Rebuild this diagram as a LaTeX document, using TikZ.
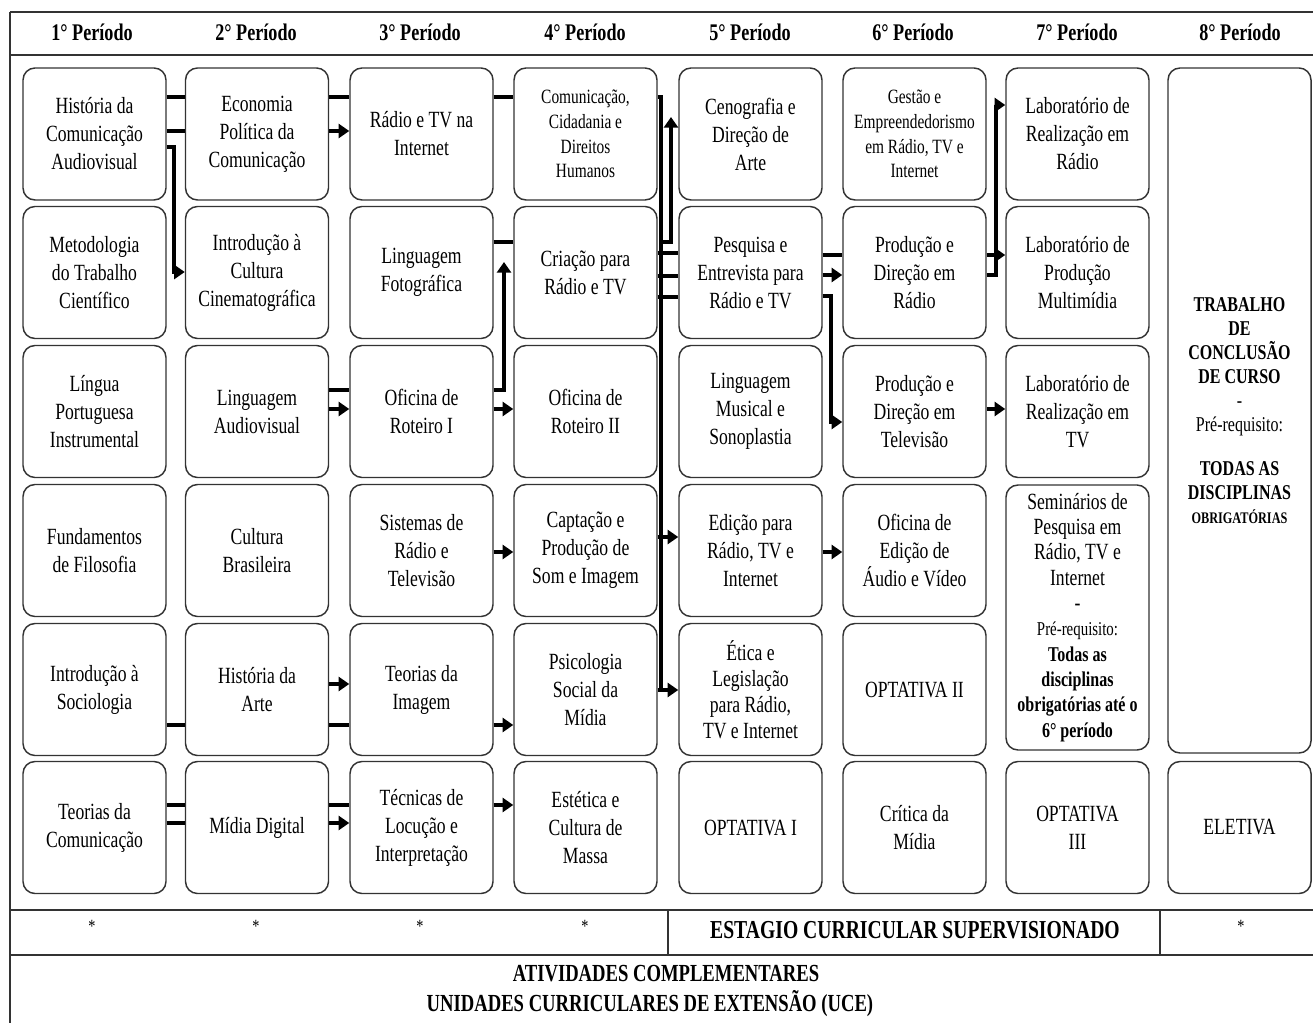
\documentclass[tikz,border=0pt]{standalone}
\usepackage{fontspec}
\setmainfont{Liberation Serif}[FakeStretch=0.76]
\usetikzlibrary{arrows.meta}
\newcommand\cvMain{\fontsize{17.4}{21}\selectfont}
\newcommand\cvSmall{\fontsize{15.2}{18.5}\selectfont}
\newcommand\cvHead{\fontsize{17.9}{20}\selectfont\bfseries}
\begin{document}
\begin{tikzpicture}[x=0.75pt,y=-0.75pt,
 course/.style={draw=black!80, line width=1.1pt, rounded corners=9pt, minimum width=107.25pt, minimum height=99pt, align=center, inner sep=1pt, font=\cvMain},
 link/.style={line width=3pt, line join=miter},
 arr/.style={link, -{Triangle[length=8pt,width=10.5pt]}},
 frame/.style={line width=1.5pt, black!80},
 hd/.style={font=\cvHead}]
\useasboundingbox[fill=white] (0,0) rectangle (1313,1023);
% frame
\draw[frame] (10,12) -- (1313,12);
\draw[frame] (10,55) -- (1313,55);
\draw[frame] (10,12) -- (10,1023);
\draw[frame] (10,910) -- (1313,910);
\draw[frame] (10,955) -- (1313,955);
\draw[frame] (668,910) -- (668,955);
\draw[frame] (1160,910) -- (1160,955);
% headers
\node[hd] (p1) at (92,32) {1° Período};
\node[hd] (p2) at (256,32) {2° Período};
\node[hd] (p3) at (420,32) {3° Período};
\node[hd] (p4) at (585,32) {4° Período};
\node[hd] (p5) at (750,32) {5° Período};
\node[hd] (p6) at (913,32) {6° Período};
\node[hd] (p7) at (1077,32) {7° Período};
\node[hd] (p8) at (1240,32) {8° Período};
% column 1
\node[course] (n11) at (94.5,134) {História da\\Comunicação\\Audiovisual};
\node[course] (n12) at (94.5,272.5) {Metodologia\\do Trabalho\\Científico};
\node[course] (n13) at (94.5,411.5) {Língua\\Portuguesa\\Instrumental};
\node[course] (n14) at (94.5,550.5) {Fundamentos\\de Filosofia};
\node[course] (n15) at (94.5,689.5) {Introdução à\\Sociologia};
\node[course] (n16) at (94.5,827.5) {Teorias da\\Comunicação};
% column 2
\node[course] (n21) at (257,134) {Economia\\Política da\\Comunicação};
\node[course] (n22) at (257,272.5) {Introdução à\\Cultura\\Cinematográfica};
\node[course] (n23) at (257,411.5) {Linguagem\\Audiovisual};
\node[course] (n24) at (257,550.5) {Cultura\\Brasileira};
\node[course] (n25) at (257,689.5) {História da\\Arte};
\node[course] (n26) at (257,827.5) {Mídia Digital};
% column 3
\node[course] (n31) at (421.5,134) {Rádio e TV na\\Internet};
\node[course] (n32) at (421.5,272.5) {Linguagem\\Fotográfica};
\node[course] (n33) at (421.5,411.5) {Oficina de\\Roteiro I};
\node[course] (n34) at (421.5,550.5) {Sistemas de\\Rádio e\\Televisão};
\node[course] (n35) at (421.5,689.5) {Teorias da\\Imagem};
\node[course] (n36) at (421.5,827.5) {Técnicas de\\Locução e\\Interpretação};
% column 4
\node[course, font=\cvSmall] (n41) at (585.5,134) {Comunicação,\\Cidadania e\\Direitos\\Humanos};
\node[course] (n42) at (585.5,272.5) {Criação para\\Rádio e TV};
\node[course] (n43) at (585.5,411.5) {Oficina de\\Roteiro II};
\node[course] (n44) at (585.5,550.5) {Captação e\\Produção de\\Som e Imagem};
\node[course] (n45) at (585.5,689.5) {Psicologia\\Social da\\Mídia};
\node[course] (n46) at (585.5,827.5) {Estética e\\Cultura de\\Massa};
% column 5
\node[course] (n51) at (750.5,134) {Cenografia e\\Direção de\\Arte};
\node[course] (n52) at (750.5,272.5) {Pesquisa e\\Entrevista para\\Rádio e TV};
\node[course] (n53) at (750.5,411.5) {Linguagem\\Musical e\\Sonoplastia};
\node[course] (n54) at (750.5,550.5) {Edição para\\Rádio, TV e\\Internet};
\node[course, font=\fontsize{17.4}{19.5}\selectfont] (n55) at (750.5,689.5) {Ética e\\Legislação\\para Rádio,\\TV e Internet};
\node[course] (n56) at (750.5,827.5) {OPTATIVA I};
% column 6
\node[course, font=\cvSmall] (n61) at (914.5,134) {Gestão e\\Empreendedorismo\\em Rádio, TV e\\Internet};
\node[course] (n62) at (914.5,272.5) {Produção e\\Direção em\\Rádio};
\node[course] (n63) at (914.5,411.5) {Produção e\\Direção em\\Televisão};
\node[course] (n64) at (914.5,550.5) {Oficina de\\Edição de\\Áudio e Vídeo};
\node[course] (n65) at (914.5,689.5) {OPTATIVA II};
\node[course] (n66) at (914.5,827.5) {Crítica da\\Mídia};
% column 7
\node[course] (n71) at (1077.5,134) {Laboratório de\\Realização em\\Rádio};
\node[course] (n72) at (1077.5,272.5) {Laboratório de\\Produção\\Multimídia};
\node[course] (n73) at (1077.5,411.5) {Laboratório de\\Realização em\\TV};
\node[course, minimum height=198.75pt, font=\fontsize{17.4}{19}\selectfont] (n74) at (1077.5,617.5) {Seminários de\\Pesquisa em\\Rádio, TV e\\Internet\\-\\{\fontsize{14.7}{17}\selectfont Pré-requisito:}\\{\fontsize{15.8}{17}\selectfont\bfseries Todas as}\\{\fontsize{15.8}{17}\selectfont\bfseries disciplinas}\\{\fontsize{15.8}{17}\selectfont\bfseries obrigatórias até o}\\{\fontsize{15.8}{17}\selectfont\bfseries 6° período}};
\node[course] (n76) at (1077.5,827.5) {OPTATIVA\\III};
% column 8
\node[course, minimum height=513.75pt, font=\fontsize{15.8}{18}\selectfont\bfseries] (n81) at (1239.5,410.5) {TRABALHO\\DE\\CONCLUSÃO\\DE CURSO\\{\mdseries -}\\{\mdseries Pré-requisito:}\\[15pt]TODAS AS\\DISCIPLINAS\\{\fontsize{12.1}{18}\selectfont OBRIGATÓRIAS}};
\node[course] (n86) at (1239.5,827.5) {ELETIVA};
% bottom rows
\node[font=\fontsize{14}{14}\selectfont] (s1) at (92,926) {*};
\node[font=\fontsize{14}{14}\selectfont] (s2) at (256,926) {*};
\node[font=\fontsize{14}{14}\selectfont] (s3) at (420,926) {*};
\node[font=\fontsize{14}{14}\selectfont] (s4) at (585,926) {*};
\node[font=\fontsize{14}{14}\selectfont] (s8) at (1241,926) {*};
\node[font=\fontsize{19.4}{20}\selectfont\bfseries] (est) at (915,930) {ESTAGIO CURRICULAR SUPERVISIONADO};
\node[font=\fontsize{18.4}{20}\selectfont\bfseries] (atv) at (666,974) {ATIVIDADES COMPLEMENTARES};
\node[font=\fontsize{18.4}{20}\selectfont\bfseries] (uce) at (650,1004) {UNIDADES CURRICULARES DE EXTENSÃO (UCE)};
% helper coordinates
\foreach \v in {97,105,117,131,147,242,253,255,262,272,275,276,296,297,390,409,422,537,552,684,690,725,805,823}
  \coordinate (h\v) at (0,\v);
\coordinate (bus) at (661,0);
\coordinate (bustwo) at (671,0);
\coordinate (va) at (174,0);
\coordinate (vb) at (504,0);
\coordinate (vc) at (831,0);
\coordinate (vd) at (996,0);
% connectors row 1
\draw[link] (n11.east |- h97) -- (n21.west |- h97);
\draw[link] (n21.east |- h97) -- (n31.west |- h97);
\draw[link] (n31.east |- h97) -- (n41.west |- h97);
\draw[arr] (n41.east |- h97) -- (bus |- h97) -- (bus |- h690) -- (n55.west |- h690);
\draw[link] (n45.east |- h690) -- (bus |- h690);
\draw[arr] (bus |- h242) -- (bustwo |- h242) -- (bustwo |- h117);
\draw[link] (n11.east |- h131) -- (n21.west |- h131);
\draw[arr] (n21.east |- h131) -- (n31.west |- h131);
\draw[arr] (n11.east |- h147) -- (va |- h147) -- (va |- h272) -- (n22.west |- h272);
% row 2
\draw[link] (n32.east |- h242) -- (n42.west |- h242);
\draw[link] (n42.east |- h253) -- (n52.west |- h253);
\draw[link] (n42.east |- h276) -- (n52.west |- h276);
\draw[link] (n42.east |- h297) -- (n52.west |- h297);
\draw[link] (n52.east |- h255) -- (n62.west |- h255);
\draw[arr] (n52.east |- h275) -- (n62.west |- h275);
\draw[arr] (n52.east |- h296) -- (vc |- h296) -- (vc |- h422) -- (n63.west |- h422);
\draw[arr] (n62.east |- h255) -- (n72.west |- h255);
\draw[arr] (n62.east |- h275) -- (vd |- h275) -- (vd |- h105) -- (n71.west |- h105);
% row 3
\draw[link] (n23.east |- h390) -- (n33.west |- h390);
\draw[arr] (n33.east |- h390) -- (vb |- h390) -- (vb |- h262);
\draw[arr] (n23.east |- h409) -- (n33.west |- h409);
\draw[arr] (n33.east |- h409) -- (n43.west |- h409);
\draw[arr] (n63.east |- h409) -- (n73.west |- h409);
% row 4
\draw[arr] (n34.east |- h552) -- (n44.west |- h552);
\draw[arr] (n44.east |- h537) -- (n54.west |- h537);
\draw[arr] (n54.east |- h552) -- (n64.west |- h552);
% row 5
\draw[link] (n15.east |- h725) -- (n25.west |- h725);
\draw[link] (n25.east |- h725) -- (n35.west |- h725);
\draw[arr] (n35.east |- h725) -- (n45.west |- h725);
\draw[arr] (n25.east |- h684) -- (n35.west |- h684);
% row 6
\draw[link] (n16.east |- h805) -- (n26.west |- h805);
\draw[link] (n26.east |- h805) -- (n36.west |- h805);
\draw[arr] (n36.east |- h805) -- (n46.west |- h805);
\draw[link] (n16.east |- h823) -- (n26.west |- h823);
\draw[arr] (n26.east |- h823) -- (n36.west |- h823);
\end{tikzpicture}
\end{document}
